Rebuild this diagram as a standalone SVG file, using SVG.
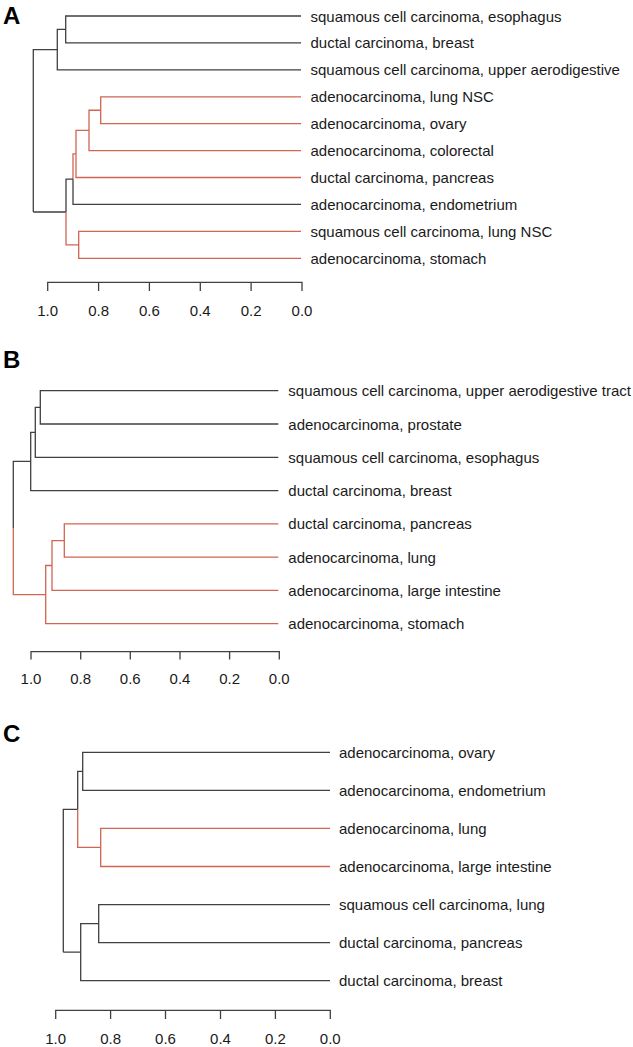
<svg xmlns="http://www.w3.org/2000/svg" width="633" height="1047" viewBox="0 0 633 1047">
<style>
text{font-family:"Liberation Sans",Arial,sans-serif;fill:#1a1a1a}
.lbl{font-size:15px}
.tick{font-size:15px;text-anchor:middle}
.panel{font-size:24px;font-weight:bold;fill:#000}
.k{fill:none;stroke:#404040;stroke-width:1.3}
.r{fill:none;stroke:#cf6652;stroke-width:1.3}
.ax{fill:none;stroke:#404040;stroke-width:1.3}
</style>
<rect width="633" height="1047" fill="#fff"/>
<g id="panel-labels">
<text class="panel" x="3" y="24">A</text>
<text class="panel" x="3" y="368">B</text>
<text class="panel" x="3" y="741.5">C</text>
</g>
<g id="connectors">
<!-- Panel A -->
<path class="k" d="M301,16H65.7V29.45 M301,42.9H65.7V29.45 M65.7,29.45H57.3V49.6 M301,69.8H57.3V49.6 M57.3,49.6H33.3V212"/>
<path class="r" d="M301,96.8H100.7V110.25 M301,123.7H100.7V110.25 M100.7,110.25H89V130.4 M301,150.6H89V130.4 M89,130.4H76V153.95 M301,177.5H76V153.95 M76,153.95H73V179.2"/>
<path class="k" d="M301,204.4H73V179.2 M73,179.2H66V212 M66,212H33.3"/>
<path class="r" d="M301,231.4H78.7V244.85 M301,258.3H78.7V244.85 M78.7,244.85H66V212"/>
<!-- Panel B -->
<path class="k" d="M278.3,390.7H40.3V407.35 M278.3,424H40.3V407.35 M40.3,407.35H35.3V432.3 M278.3,457.3H35.3V432.3 M35.3,432.3H30.7V461.45 M278.3,490.6H30.7V461.45 M30.7,461.45H13.3V528"/>
<path class="r" d="M278.3,523.9H64.3V540.55 M278.3,557.2H64.3V540.55 M64.3,540.55H52V565.5 M278.3,590.4H52V565.5 M52,565.5H45.7V594.6 M278.3,623.7H45.7V594.6 M45.7,594.6H13.3V528"/>
<!-- Panel C -->
<path class="k" d="M330,752.3H82.7V771.35 M330,790.4H82.7V771.35 M82.7,771.35H77.7V809.4 M77.7,809.4H63.3V952.2 M330,904.6H98.7V923.65 M330,942.7H98.7V923.65 M98.7,923.65H80.7V952.2 M330,980.7H80.7V952.2 M80.7,952.2H63.3"/>
<path class="r" d="M330,828.4H100.7V847.45 M330,866.5H100.7V847.45 M100.7,847.45H77.7V809.4"/>
</g>
<g id="leaves-A">
<g id="a1"><text class="lbl" x="310.5" y="21.5">squamous cell carcinoma, esophagus</text></g>
<g id="a2"><text class="lbl" x="310.5" y="48.4">ductal carcinoma, breast</text></g>
<g id="a3"><text class="lbl" x="310.5" y="75.3">squamous cell carcinoma, upper aerodigestive</text></g>
<g id="a4"><text class="lbl" x="310.5" y="102.3">adenocarcinoma, lung NSC</text></g>
<g id="a5"><text class="lbl" x="310.5" y="129.2">adenocarcinoma, ovary</text></g>
<g id="a6"><text class="lbl" x="310.5" y="156.1">adenocarcinoma, colorectal</text></g>
<g id="a7"><text class="lbl" x="310.5" y="183">ductal carcinoma, pancreas</text></g>
<g id="a8"><text class="lbl" x="310.5" y="209.9">adenocarcinoma, endometrium</text></g>
<g id="a9"><text class="lbl" x="310.5" y="236.9">squamous cell carcinoma, lung NSC</text></g>
<g id="a10"><text class="lbl" x="310.5" y="263.8">adenocarcinoma, stomach</text></g>
</g>
<g id="leaves-B">
<g id="b1"><text class="lbl" x="288.3" y="396.2">squamous cell carcinoma, upper aerodigestive tract</text></g>
<g id="b2"><text class="lbl" x="288.3" y="429.5">adenocarcinoma, prostate</text></g>
<g id="b3"><text class="lbl" x="288.3" y="462.8">squamous cell carcinoma, esophagus</text></g>
<g id="b4"><text class="lbl" x="288.3" y="496.1">ductal carcinoma, breast</text></g>
<g id="b5"><text class="lbl" x="288.3" y="529.4">ductal carcinoma, pancreas</text></g>
<g id="b6"><text class="lbl" x="288.3" y="562.7">adenocarcinoma, lung</text></g>
<g id="b7"><text class="lbl" x="288.3" y="595.9">adenocarcinoma, large intestine</text></g>
<g id="b8"><text class="lbl" x="288.3" y="629.2">adenocarcinoma, stomach</text></g>
</g>
<g id="leaves-C">
<g id="c1"><text class="lbl" x="339" y="757.8">adenocarcinoma, ovary</text></g>
<g id="c2"><text class="lbl" x="339" y="795.9">adenocarcinoma, endometrium</text></g>
<g id="c3"><text class="lbl" x="339" y="833.9">adenocarcinoma, lung</text></g>
<g id="c4"><text class="lbl" x="339" y="872">adenocarcinoma, large intestine</text></g>
<g id="c5"><text class="lbl" x="339" y="910.1">squamous cell carcinoma, lung</text></g>
<g id="c6"><text class="lbl" x="339" y="948.2">ductal carcinoma, pancreas</text></g>
<g id="c7"><text class="lbl" x="339" y="986.2">ductal carcinoma, breast</text></g>
</g>
<g id="axis-A">
<path class="ax" d="M47.7,291V282.3H302V291 M98.6,282.3V291 M149.4,282.3V291 M200.3,282.3V291 M251.1,282.3V291"/>
<text class="tick" x="47.7" y="315.5">1.0</text>
<text class="tick" x="98.6" y="315.5">0.8</text>
<text class="tick" x="149.4" y="315.5">0.6</text>
<text class="tick" x="200.3" y="315.5">0.4</text>
<text class="tick" x="251.1" y="315.5">0.2</text>
<text class="tick" x="302" y="315.5">0.0</text>
</g>
<g id="axis-B">
<path class="ax" d="M31,659.5V651.7H279.3V659.5 M80.7,651.7V659.5 M130.3,651.7V659.5 M180,651.7V659.5 M229.6,651.7V659.5"/>
<text class="tick" x="31" y="684">1.0</text>
<text class="tick" x="80.7" y="684">0.8</text>
<text class="tick" x="130.3" y="684">0.6</text>
<text class="tick" x="180" y="684">0.4</text>
<text class="tick" x="229.6" y="684">0.2</text>
<text class="tick" x="279.3" y="684">0.0</text>
</g>
<g id="axis-C">
<path class="ax" d="M55.7,1019V1010.3H330.3V1019 M110.6,1010.3V1019 M165.5,1010.3V1019 M220.5,1010.3V1019 M275.4,1010.3V1019"/>
<text class="tick" x="55.7" y="1043.5">1.0</text>
<text class="tick" x="110.6" y="1043.5">0.8</text>
<text class="tick" x="165.5" y="1043.5">0.6</text>
<text class="tick" x="220.5" y="1043.5">0.4</text>
<text class="tick" x="275.4" y="1043.5">0.2</text>
<text class="tick" x="330.3" y="1043.5">0.0</text>
</g>
</svg>
